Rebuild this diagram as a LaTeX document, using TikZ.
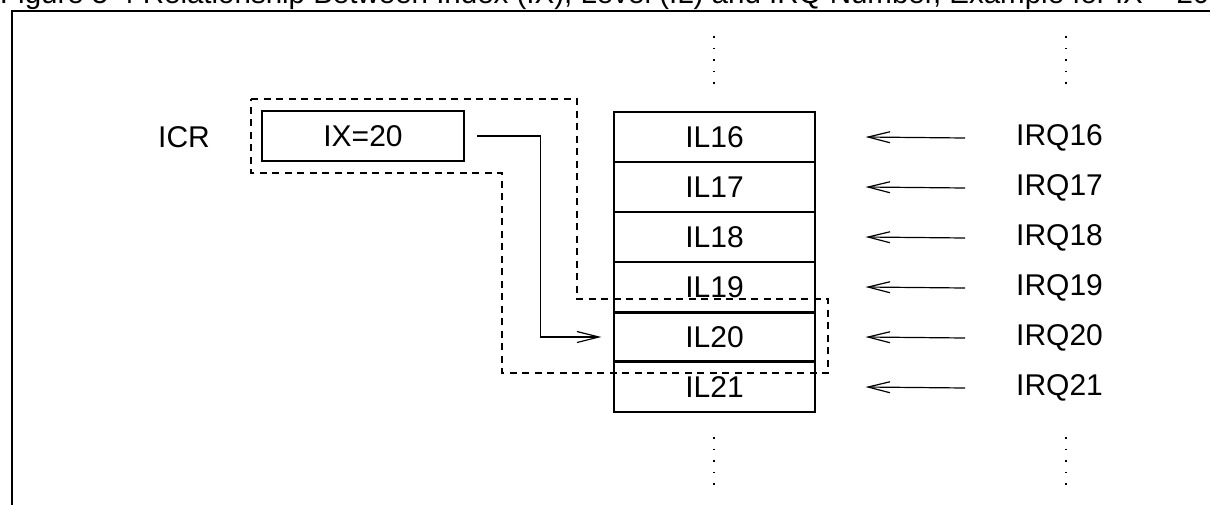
\documentclass[tikz,border=0pt]{standalone}
\usepackage{fontspec}
\setmainfont{Liberation Sans}
\usetikzlibrary{arrows.meta}
\begin{document}
\begin{tikzpicture}[x=1pt,y=-1pt,
  every node/.style={font=\fontsize{30}{36}\selectfont},
  lbl/.style={inner sep=0pt},
  ilbox/.style={draw,line width=1.1pt,minimum width=201pt,minimum height=50pt,inner sep=0pt},
  thickbox/.style={draw,line width=2.2pt},
  arr/.style={line width=1.2pt,-{Straight Barb[length=22pt,width=11pt,line width=1.2pt]}},
  hilite/.style={line width=1.2pt,dash pattern=on 7pt off 5.5pt},
  vdots/.style={line width=1.3pt,dash pattern=on 1.5pt off 10pt}]
\useasboundingbox (0,0) rectangle (1210,504);
\clip (0,0) rectangle (1210,504);
% title (cut off at the top)
\node[lbl,anchor=base west,font=\fontsize{29.5}{34}\selectfont] (title) at (0,3) {Figure 5-4 Relationship Between Index (IX), Level (IL) and IRQ Number, Example for IX = 20};
% frame
\draw[line width=1.8pt] (12,520) -- (12,11) -- (1230,11);
% ICR
\node[lbl] (icr) at (184,137) {ICR};
\node[draw,line width=2.2pt,minimum width=202pt,minimum height=50pt,inner sep=0pt] (ix) at (363,136) {IX=20};
% IL stack
\foreach \n [count=\i from 0] in {16,17,18,19,20,21} {
  \node[ilbox] (il\n) at (714.5,137+50*\i) {IL\n};
  \node[lbl,anchor=west] (irq\n) at (1016,138+50*\i) {IRQ\n};
  \draw[arr] ([xshift=-51pt]irq\n.west) -- ([xshift=50pt]il\n.east);
}
\node[thickbox,minimum width=201pt,minimum height=49pt,inner sep=0pt] (il20b) at (il20) {};
% highlight region
\draw[hilite] (251,99) -- (577,99) -- (577,299) -- (828,299) -- (828,373) -- (502,373) -- (502,173) -- (251,173) -- cycle;
% connector IX -> IL20
\draw[arr] ([xshift=12pt]ix.east) -- ++(63,0) |- ([xshift=-12pt]il20.west);
% continuation dots
\coordinate (dtl) at (714,36);
\coordinate (dtr) at (1066,36);
\coordinate (dbl) at (714,437);
\coordinate (dbr) at (1066,437);
\draw[vdots] (dtl) -- ++(0,48);
\draw[vdots] (dtr) -- ++(0,48);
\draw[vdots] (dbl) -- ++(0,48);
\draw[vdots] (dbr) -- ++(0,48);
\end{tikzpicture}
\end{document}
